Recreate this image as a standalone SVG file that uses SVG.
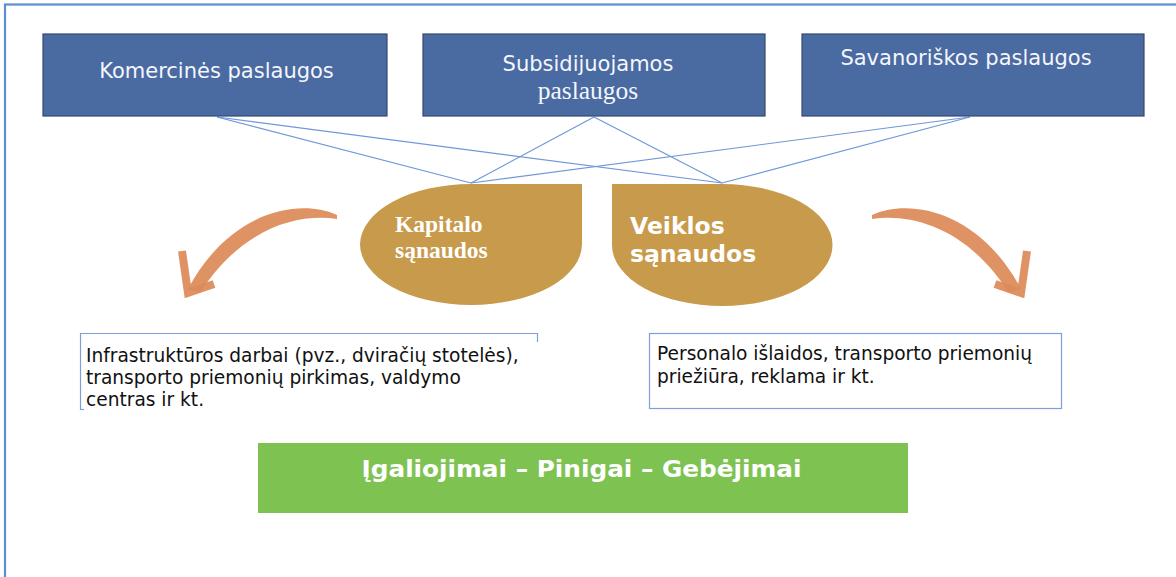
<svg xmlns="http://www.w3.org/2000/svg" width="1176" height="577" viewBox="0 0 1176 577">
<style>
.top{fill:#4a6aa2;stroke:#34496f;stroke-width:1.2}
.tt{fill:#f4f6fb;font-family:"DejaVu Sans",Verdana,sans-serif;font-size:21px}
.blob{fill:#c89a4c}
.conn{stroke:#6f97da;stroke-width:1.2;fill:none}
.arrow{fill:#dc8a58;opacity:0.92}
.ahead{fill:none;stroke:#dc8a58;stroke-width:8;stroke-linejoin:miter;opacity:0.92}
.note{font-family:"DejaVu Sans",Verdana,sans-serif;font-size:18.6px;fill:#111}
.nb{fill:none;stroke:#7d9fdc;stroke-width:1.2}
</style>
<rect x="0" y="0" width="1176" height="577" fill="#ffffff"/>
<rect x="5" y="4.5" width="1200" height="600" fill="none" stroke="#5b8fd0" stroke-width="2.2"/>

<g id="connectors">
<line class="conn" x1="217" y1="117" x2="471" y2="183"/>
<line class="conn" x1="217" y1="117" x2="722" y2="183"/>
<line class="conn" x1="594" y1="117" x2="471" y2="183"/>
<line class="conn" x1="594" y1="117" x2="722" y2="183"/>
<line class="conn" x1="970" y1="117" x2="471" y2="183"/>
<line class="conn" x1="970" y1="117" x2="722" y2="183"/>
</g>

<g id="komercines">
<rect class="top" x="43" y="34" width="344" height="82"/>
<text class="tt" x="216.5" y="78" text-anchor="middle">Komercinės paslaugos</text>
</g>
<g id="subsidijuojamos">
<rect class="top" x="423" y="34" width="342" height="82"/>
<text class="tt" x="588" y="71" text-anchor="middle">Subsidijuojamos</text>
<text x="588" y="99" text-anchor="middle" fill="#f4f6fb" font-family="'Liberation Serif','Times New Roman',serif" font-size="25.5">paslaugos</text>
</g>
<g id="savanoriskos">
<rect class="top" x="802" y="34" width="342" height="82"/>
<text class="tt" x="966" y="65" text-anchor="middle">Savanoriškos paslaugos</text>
</g>

<g id="kapitalo">
<path class="blob" d="M582,184 L582,244 A111,61 0 0 1 471,305 A111,61 0 0 1 360,244 A111,61 0 0 1 471,184 Z"/>
<text fill="#ffffff" font-family="'Liberation Serif','Times New Roman',serif" font-weight="bold" font-size="23.5"><tspan x="395" y="232">Kapitalo</tspan><tspan x="395" y="258">sąnaudos</tspan></text>
</g>
<g id="veiklos">
<path class="blob" d="M612,184 L722,184 A110.5,61 0 0 1 832.5,245 A110.5,61 0 0 1 722,306 A110,61 0 0 1 612,245 Z"/>
<text fill="#ffffff" font-family="'DejaVu Sans',Verdana,sans-serif" font-weight="bold" font-size="23.5"><tspan x="630" y="234">Veiklos</tspan><tspan x="630" y="262">sąnaudos</tspan></text>
</g>

<g id="arrow-left">
<path class="arrow" d="M337,215 C300,198 230,210 188,289 L200,293 C240,230 295,213 337,219 Z"/>
<polyline class="ahead" points="182,251 188,293 214,284"/>
</g>
<g id="arrow-right" transform="translate(1209,0) scale(-1,1)">
<path class="arrow" d="M337,215 C300,198 230,210 188,289 L200,293 C240,230 295,213 337,219 Z"/>
<polyline class="ahead" points="182,251 188,293 214,284"/>
</g>

<g id="kapitalo-note">
<path class="nb" d="M80.5,410 L80.5,333.5 L537.5,333.5 L537.5,342"/>
<line class="nb" x1="80.5" y1="409.5" x2="84" y2="409.5"/>
<text class="note"><tspan x="86" y="362">Infrastruktūros darbai (pvz., dviračių stotelės),</tspan><tspan x="86" y="384">transporto priemonių pirkimas, valdymo</tspan><tspan x="86" y="406">centras ir kt.</tspan></text>
</g>
<g id="veiklos-note">
<rect class="nb" x="649.5" y="333.5" width="412" height="75"/>
<text class="note"><tspan x="657" y="360">Personalo išlaidos, transporto priemonių</tspan><tspan x="657" y="383">priežiūra, reklama ir kt.</tspan></text>
</g>

<g id="galios">
<rect x="258" y="443" width="650" height="70" fill="#7ec352"/>
<text x="581.5" y="477" text-anchor="middle" fill="#ffffff" font-family="'DejaVu Sans',Tahoma,sans-serif" font-weight="bold" font-size="22.5" textLength="440" lengthAdjust="spacingAndGlyphs">Įgaliojimai – Pinigai – Gebėjimai</text>
</g>
</svg>
